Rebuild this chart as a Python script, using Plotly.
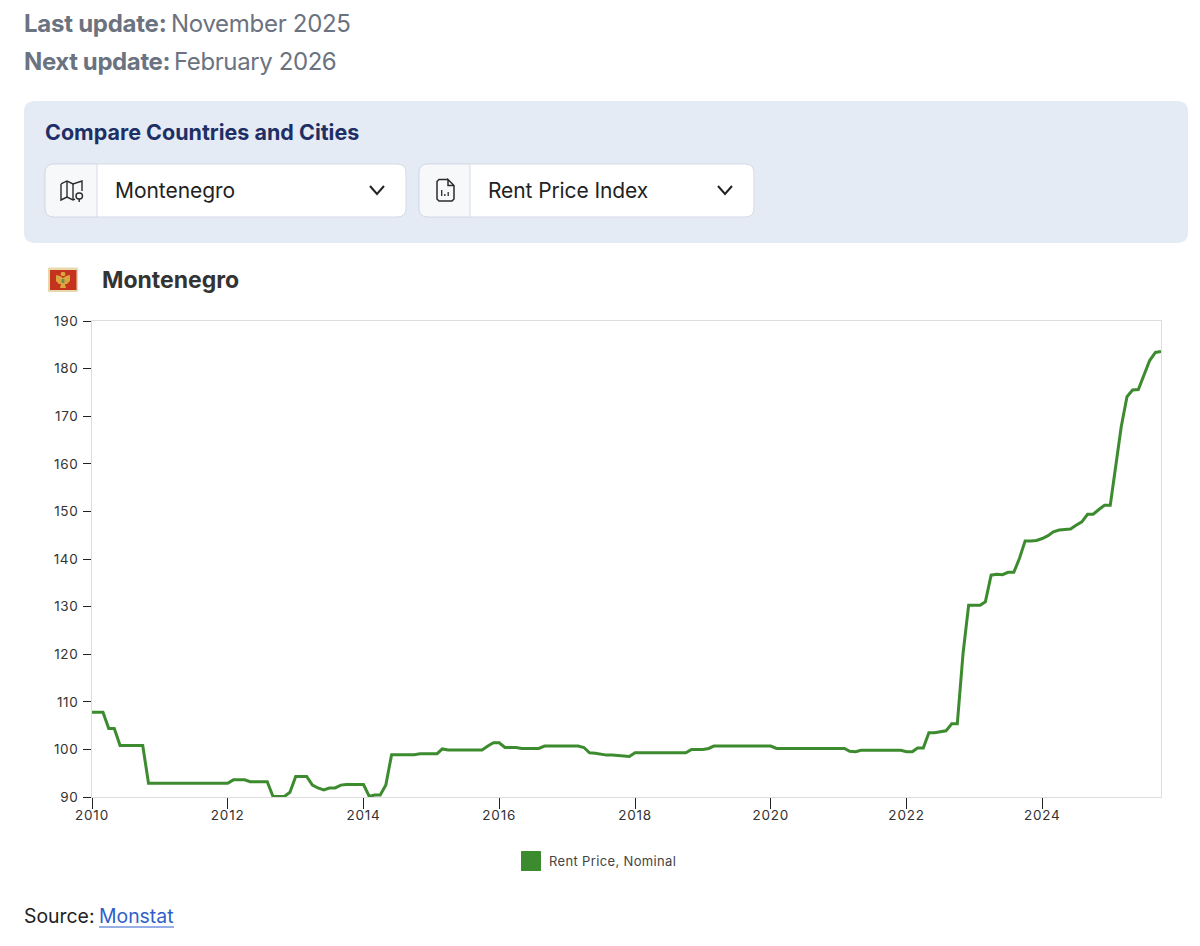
import plotly.graph_objects as go
import pandas as pd

# monthly values, Jan 2010 - Oct 2025
rent_2010 = [107.8, 107.8, 107.8, 104.4, 104.4, 100.8, 100.8, 100.8, 100.8, 100.8, 92.9, 92.9]
rent_2011 = [92.9] * 12
rent_2012 = [92.9, 93.6, 93.6, 93.6, 93.2, 93.2, 93.2, 93.2, 90.1, 90.1, 90.1, 91.0]
rent_2013 = [94.3, 94.3, 94.3, 92.5, 91.9, 91.5, 91.9, 91.9, 92.5, 92.6, 92.6, 92.6]
rent_2014 = [92.6, 90.1, 90.4, 90.4, 92.5, 98.9, 98.9, 98.9, 98.9, 98.9, 99.1, 99.1]
rent_2015 = [99.1, 99.1, 100.1, 99.9, 99.9, 99.9, 99.9, 99.9, 99.9, 99.9, 100.7, 101.4]
rent_2016 = [101.4, 100.4, 100.4, 100.4, 100.2, 100.2, 100.2, 100.2, 100.7, 100.7, 100.7, 100.7]
rent_2017 = [100.7, 100.7, 100.7, 100.4, 99.3, 99.2, 99.0, 98.8, 98.8, 98.7, 98.6, 98.5]
rent_2018 = [99.3, 99.3, 99.3, 99.3, 99.3, 99.3, 99.3, 99.3, 99.3, 99.3, 100.0, 100.0]
rent_2019 = [100.0, 100.2, 100.7, 100.7, 100.7, 100.7, 100.7, 100.7, 100.7, 100.7, 100.7, 100.7]
rent_2020 = [100.7, 100.2, 100.2, 100.2, 100.2, 100.2, 100.2, 100.2, 100.2, 100.2, 100.2, 100.2]
rent_2021 = [100.2, 100.2, 99.6, 99.5, 99.8, 99.8, 99.8, 99.8, 99.8, 99.8, 99.8, 99.8]
rent_2022 = [99.5, 99.5, 100.3, 100.3, 103.5, 103.5, 103.7, 103.9, 105.4, 105.4, 120.2, 130.3]
rent_2023 = [130.3, 130.3, 131.0, 136.6, 136.8, 136.7, 137.2, 137.2, 140.2, 143.8, 143.8, 143.9]
rent_2024 = [144.3, 144.9, 145.7, 146.1, 146.2, 146.3, 147.1, 147.8, 149.4, 149.4, 150.4, 151.3]
rent_2025 = [151.3, 160.0, 167.8, 174.1, 175.5, 175.6, 178.6, 181.7, 183.4, 183.6]

rent = (rent_2010 + rent_2011 + rent_2012 + rent_2013 + rent_2014 + rent_2015 + rent_2016 + rent_2017
        + rent_2018 + rent_2019 + rent_2020 + rent_2021 + rent_2022 + rent_2023 + rent_2024 + rent_2025)
dates = pd.date_range("2010-01-01", periods=len(rent), freq="MS")

y_ticks = [90, 100, 110, 120, 130, 140, 150, 160, 170, 180, 190]
x_ticks = ["2010-01-01", "2012-01-01", "2014-01-01", "2016-01-01", "2018-01-01", "2020-01-01", "2022-01-01", "2024-01-01"]
x_labels = ["2010", "2012", "2014", "2016", "2018", "2020", "2022", "2024"]

GREEN = "#3d8b2f"
FONT = "Inter"

# plot area in page pixels
LEFT, RIGHT, TOP, BOTTOM = 92, 1161, 321, 797


def px_x(x):
    return (x - LEFT) / (RIGHT - LEFT)


def px_y(y):
    return (BOTTOM - y) / (BOTTOM - TOP)


def P(x, y):
    return f"{px_x(x):.5f},{px_y(y):.5f}"


def path(points, close=False):
    d = "M" + " L".join(P(x, y) for x, y in points)
    return d + (" Z" if close else "")


def round_rect(x0, y0, x1, y1, r, corners="tl tr br bl"):
    c = corners.split()
    d = "M" + P(x0 + (r if "tl" in c else 0), y0)
    d += " L" + P(x1 - (r if "tr" in c else 0), y0)
    if "tr" in c:
        d += " Q" + P(x1, y0) + " " + P(x1, y0 + r)
    d += " L" + P(x1, y1 - (r if "br" in c else 0))
    if "br" in c:
        d += " Q" + P(x1, y1) + " " + P(x1 - r, y1)
    d += " L" + P(x0 + (r if "bl" in c else 0), y1)
    if "bl" in c:
        d += " Q" + P(x0, y1) + " " + P(x0, y1 - r)
    d += " L" + P(x0, y0 + (r if "tl" in c else 0)) + " "
    if "tl" in c:
        d += "Q" + P(x0, y0) + " " + P(x0 + r, y0)
    return d + " Z"


def shape(d, fill="rgba(0,0,0,0)", line="rgba(0,0,0,0)", width=1):
    return dict(type="path", xref="paper", yref="paper", path=d, fillcolor=fill,
                line=dict(color=line, width=width), layer="below")


def spaced(text, spacing):
    return f'<span style="letter-spacing:{spacing}px">{text}</span>'


def label(x, y, text, size, color, anchor="left"):
    # annotations carry 1px of padding, take it back so x is where the ink starts
    return dict(xref="paper", yref="paper", x=px_x(x - 1), y=px_y(y), text=text, showarrow=False,
                xanchor=anchor, yanchor="middle", borderpad=0,
                font=dict(family=FONT, size=size, color=color))


fig = go.Figure()
fig.add_trace(go.Scatter(x=dates, y=rent, mode="lines", name="Rent Price, Nominal",
                         line=dict(color=GREEN, width=3), cliponaxis=False))

shapes = []
# filter panel
shapes.append(shape(round_rect(24, 101, 1188, 243, 11), fill="#e5ebf4"))

# the two dropdowns
for x0, x1, split in [(45, 406, 97), (419, 754, 470)]:
    shapes.append(shape(round_rect(x0, 164, x1, 217, 9), fill="#ffffff", line="#d5dbe6"))
    shapes.append(shape(round_rect(x0, 164, split, 217, 9, "tl bl"), fill="#f7f8fa", line="#d5dbe6"))

# chevrons
for cx in [377, 725]:
    shapes.append(shape(path([(cx - 7, 186), (cx, 194), (cx + 7, 186)]), line="#222222", width=2))

# map icon
ICON = "#2b2b2b"
shapes.append(shape(path([(61, 184), (67, 181), (73, 184), (82, 181), (82, 191)]), line=ICON, width=1.4))
shapes.append(shape(path([(61, 184), (61, 200), (67, 197), (73, 200), (75, 199)]), line=ICON, width=1.4))
shapes.append(shape(path([(67, 181), (67, 197)]), line=ICON, width=1.4))
shapes.append(shape(path([(73, 184), (73, 200)]), line=ICON, width=1.4))
shapes.append(shape(round_rect(76, 193, 82.5, 199, 3), line=ICON, fill="#f7f8fa", width=1.4))
shapes.append(shape(path([(79.2, 199), (79.2, 202)]), line=ICON, width=1.4))

# file icon
shapes.append(shape(path([(448, 179.5), (439, 179.5), (437, 181.5), (437, 199), (439, 201), (452, 201), (454, 199),
                          (454, 185.5), (448, 179.5), (448, 185.5), (454, 185.5)]), line=ICON, width=1.5))
shapes.append(shape(path([(441.7, 196), (441.7, 190)]), line=ICON, width=1.3))
shapes.append(shape(path([(444.8, 196), (444.8, 194)]), line=ICON, width=1.3))
shapes.append(shape(path([(448.2, 196), (448.2, 192)]), line=ICON, width=1.3))

# flag
shapes.append(shape(round_rect(48, 267.5, 78, 292, 1), fill="#e9d8ac"))
shapes.append(shape(round_rect(50, 270, 76.5, 290, 0.5), fill="#c4331e"))
shapes.append(shape(path([(60.5, 274), (61.5, 272), (64.5, 272), (65.5, 274), (64.5, 276), (61.5, 276)], close=True), fill="#dba63f"))
shapes.append(shape(path([(56, 275), (60, 276), (63, 278), (66, 276), (70, 275), (70, 281), (67, 284), (65, 284),
                          (66, 288), (60, 288), (61, 284), (59, 284), (56, 281)], close=True), fill="#dba63f"))
shapes.append(shape(round_rect(61.5, 279, 64.5, 283, 1), fill="#6f8f4a"))

# legend swatch
shapes.append(shape(round_rect(521, 851, 541, 871, 0.5), fill=GREEN))

# link underline
shapes.append(shape(path([(99, 927), (174, 927)]), line="#2f5fc9", width=1))

GREY = "#6b7280"
annotations = [
    label(24, 23, spaced("<b>Last update:</b>", -0.25), 24, GREY),
    label(171, 23, spaced("November 2025", -0.3), 24, GREY),
    label(24, 62, spaced("<b>Next update:</b>", -0.4), 24, GREY),
    label(174, 62, spaced("February 2026", -0.4), 24, GREY),
    label(45, 132, "<b>Compare Countries and Cities</b>", 21.5, "#1e2f66"),
    label(115, 190, spaced("Montenegro", -0.05), 21, "#222222"),
    label(488, 190, spaced("Rent Price Index", -0.1), 21, "#222222"),
    label(102, 280, "<b>Montenegro</b>", 23, "#333333"),
    label(549, 861, spaced("Rent Price, Nominal", 0.35), 13, "#444444"),
    label(24, 916, 'Source:', 19.4, "#222222"),
    label(99, 916, '<span style="color:#2f5fc9">Monstat</span>', 19.4, "#222222"),
]

fig.update_layout(
    width=1200, height=946,
    margin=dict(l=LEFT, r=1200 - RIGHT, t=TOP, b=946 - BOTTOM, pad=0),
    paper_bgcolor="#ffffff", plot_bgcolor="#ffffff",
    showlegend=False,
    font=dict(family=FONT, size=13, color="#333333"),
    shapes=shapes, annotations=annotations,
    xaxis=dict(range=["2010-01-01", "2025-10-01"], tickvals=x_ticks, ticktext=[spaced(t, 0.8) for t in x_labels],
               showgrid=False, zeroline=False, ticks="outside", ticklen=11, tickwidth=1, tickcolor="#222222",
               showline=True, linecolor="#dddddd", mirror=True, tickfont=dict(size=13.5, color="#333333"),
               ticklabelstandoff=-5),
    yaxis=dict(range=[90, 190], tickvals=y_ticks, ticktext=[spaced(t, 0.6) for t in y_ticks],
               showgrid=False, zeroline=False,
               ticks="outside", ticklen=8, tickwidth=1, tickcolor="#222222",
               showline=True, linecolor="#dddddd", mirror=True, tickfont=dict(size=13.5, color="#333333"),
               ticklabelstandoff=2),
)

fig.write_html("out.html", post_script="document.body.style.margin='0';document.body.style.overflow='hidden';",
               config=dict(displayModeBar=False))
